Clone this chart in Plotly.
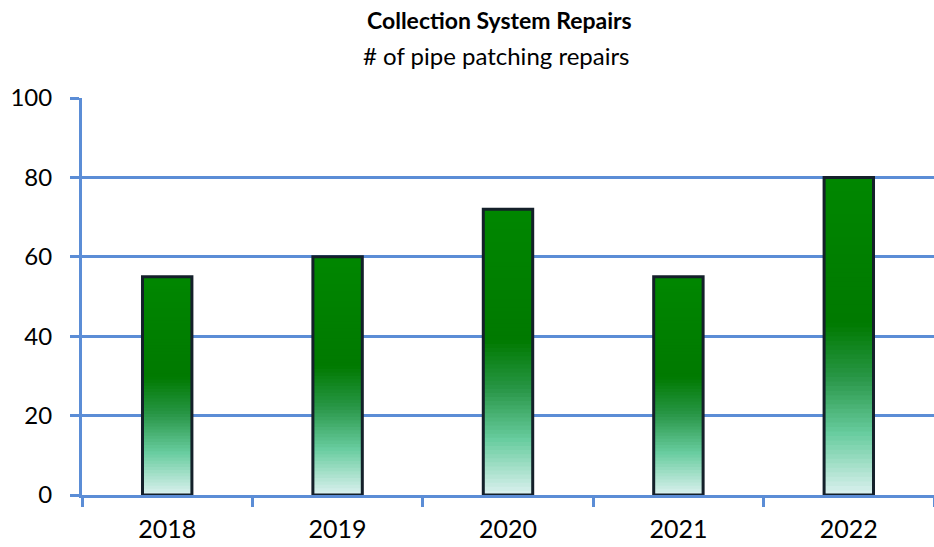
import plotly.graph_objects as go

years = ["2018", "2019", "2020", "2021", "2022"]
repairs = [55, 60, 72, 55, 80]
y_ticks = [0, 20, 40, 60, 80, 100]

title_text = "Collection System Repairs"
subtitle_text = "# of pipe patching repairs"

FONT = "Lato"
GRID = "#5B8DD6"
N = 70

def lerp(c1, c2, t):
    return tuple(c1[i] + (c2[i] - c1[i]) * t for i in range(3))

# gradient stops: fraction from top of bar -> color
stops = [
    (0.00, (0, 135, 0)),
    (0.45, (0, 122, 0)),
    (0.62, (40, 150, 70)),
    (0.80, (105, 205, 160)),
    (1.00, (225, 243, 243)),
]

def color_at(f):
    for (f1, c1), (f2, c2) in zip(stops[:-1], stops[1:]):
        if f1 <= f <= f2:
            t = (f - f1) / (f2 - f1)
            c = lerp(c1, c2, t)
            return "rgb(%d,%d,%d)" % c
    return "rgb(%d,%d,%d)" % stops[-1][1]

fig = go.Figure()
bar_width = 0.29
# nested bars, tallest first, each painted with the colour at its top fraction
for k in range(N):
    h = (N - k) / N
    frac_top = 1 - h
    fig.add_trace(go.Bar(
        x=years, y=[v * h for v in repairs], width=bar_width,
        marker=dict(color=color_at(frac_top), line=dict(width=0)),
        showlegend=False, hoverinfo="skip",
    ))

fig.add_trace(go.Bar(
    x=years, y=repairs, width=bar_width,
    marker=dict(color="rgba(0,0,0,0)", line=dict(color="#14202a", width=3)),
    showlegend=False,
))

fig.update_layout(
    width=934, height=547,
    barmode="overlay",
    margin=dict(l=82, r=0, t=98, b=52),
    plot_bgcolor="white", paper_bgcolor="white",
    font=dict(family=FONT, color="black"),
    xaxis=dict(
        automargin=False,
        showline=True, linecolor=GRID, linewidth=3,
        ticks="outside", tickson="boundaries", tickcolor=GRID, tickwidth=3, ticklen=9,
        tickfont=dict(family=FONT, size=25, color="black"),
        ticklabelstandoff=10,
        showgrid=False, zeroline=False,
    ),
    yaxis=dict(
        automargin=False,
        range=[0, 100], tickvals=y_ticks,
        showline=True, linecolor=GRID, linewidth=3,
        ticks="outside", tickcolor=GRID, tickwidth=3, ticklen=9,
        showgrid=True, gridcolor=GRID, gridwidth=3,
        tickfont=dict(family=FONT, size=24, color="black"),
        ticklabelstandoff=13,
        zeroline=False,
    ),
    annotations=[
        dict(text="<b>" + title_text + "</b>", xref="paper", yref="paper",
             x=0.49, y=1.196, xanchor="center", yanchor="middle", showarrow=False,
             font=dict(family=FONT, size=23, color="black")),
        dict(text=subtitle_text, xref="paper", yref="paper",
             x=0.487, y=1.106, xanchor="center", yanchor="middle", showarrow=False,
             font=dict(family=FONT, size=24, color="black")),
    ],
)

fig.write_html(
    "out.html",
    config={"displayModeBar": False},
    post_script="document.body.style.margin='0';document.body.style.overflow='hidden';",
)
